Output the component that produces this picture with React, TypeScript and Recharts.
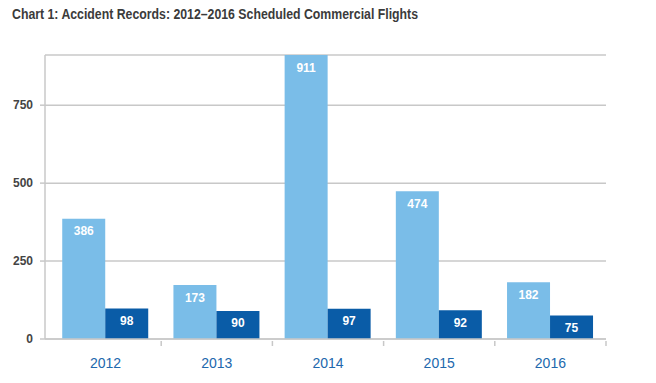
import { BarChart, Bar, XAxis, YAxis, CartesianGrid, LabelList } from "recharts";

const years = ["2012", "2013", "2014", "2015", "2016"];
const accidents = [386, 173, 911, 474, 182];
const fatalAccidents = [98, 90, 97, 92, 75];
const yTicks = [0, 250, 500, 750];

const data = years.map((year, i) => ({
  year,
  accidents: accidents[i],
  fatal: fatalAccidents[i],
}));

const LIGHT = "#7abde8";
const DARK = "#0a5ca7";

function YearTick(props: any) {
  const { x, y, payload } = props;
  const half = payload.offset ?? 0;
  return (
    <g>
      <line x1={x + half} y1={y - 6} x2={x + half} y2={y - 1} stroke="#c8c8c8" strokeWidth={1.5} />
      <text
        x={x}
        y={y + 21}
        textAnchor="middle"
        fill="#2168ad"
        fontSize={14}
        fontFamily="'Liberation Sans', Arial, sans-serif"
      >
        {payload.value}
      </text>
    </g>
  );
}

export default function App() {
  return (
    <div
      style={{
        position: "absolute",
        top: 0,
        left: 0,
        width: 656,
        height: 383,
        background: "#fff",
        fontFamily: "'Liberation Sans', Arial, sans-serif",
      }}
    >
      <div
        style={{
          position: "absolute",
          top: 6,
          left: 12,
          fontFamily: "'Liberation Sans', Arial, sans-serif",
          fontWeight: "bold",
          fontSize: 14,
          color: "#3b3b3b",
          whiteSpace: "nowrap",
          transform: "scaleX(0.878)",
          transformOrigin: "left center",
        }}
      >
        Chart 1: Accident Records: 2012–2016 Scheduled Commercial Flights
      </div>
      <BarChart
        width={656}
        height={383}
        data={data}
        margin={{ top: 55, right: 50, bottom: 14, left: 8 }}
        barGap={0}
        barCategoryGap="11%"
      >
        <CartesianGrid vertical={false} stroke="#c8c8c8" strokeWidth={1.5} />
        <XAxis
          dataKey="year"
          height={30}
          padding={{ left: 5, right: 0 }}
          axisLine={{ stroke: "#c8c8c8", strokeWidth: 1.5 }}
          tickLine={false}
          tick={<YearTick />}
          interval={0}
        />
        <YAxis
          width={37}
          domain={[0, 911]}
          ticks={yTicks}
          axisLine={{ stroke: "#c8c8c8", strokeWidth: 1.5 }}
          tickLine={{ stroke: "#c8c8c8", strokeWidth: 1.5 }}
          tickSize={5}
          tickMargin={7}
          tick={{ fill: "#444", fontSize: 12, fontWeight: "bold" }}
        />
        <Bar dataKey="accidents" fill={LIGHT} isAnimationActive={false}>
          <LabelList
            dataKey="accidents"
            position="insideTop"
            offset={8}
            fill="#fff"
            fontSize={12}
            fontWeight="bold"
          />
        </Bar>
        <Bar dataKey="fatal" fill={DARK} isAnimationActive={false}>
          <LabelList
            dataKey="fatal"
            position="insideTop"
            offset={8}
            fill="#fff"
            fontSize={12}
            fontWeight="bold"
          />
        </Bar>
      </BarChart>
    </div>
  );
}
